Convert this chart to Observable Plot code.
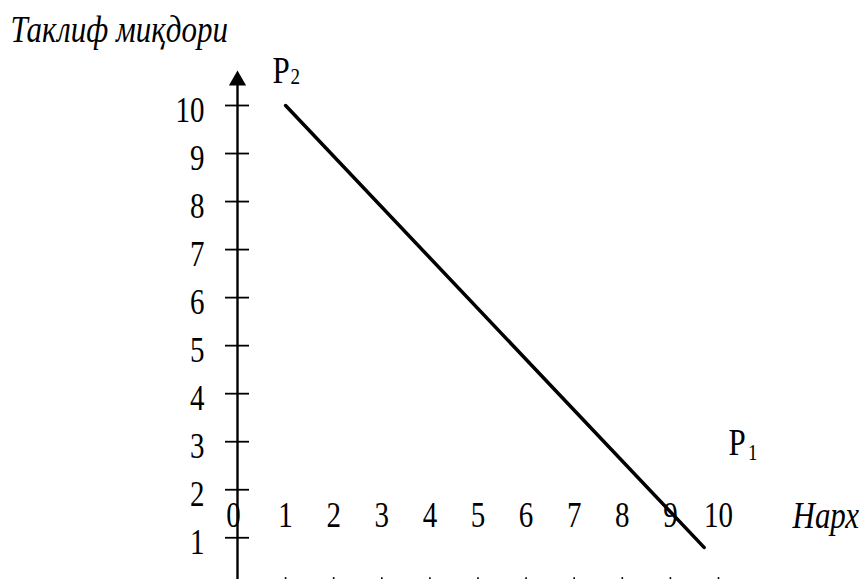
<!DOCTYPE html>
<html>
<head>
<meta charset="utf-8">
<script src="https://cdn.jsdelivr.net/npm/d3@7"></script>
<script src="https://cdn.jsdelivr.net/npm/@observablehq/plot@0.6"></script>
<style>
  body { margin: 0; background: #fff; }
  #chart { width: 865px; height: 579px; overflow: hidden; }
</style>
</head>
<body>
<div id="chart"></div>
<script>
// Tick values along both axes
const yTicks = [1, 2, 3, 4, 5, 6, 7, 8, 9, 10];
const xTicks = [1, 2, 3, 4, 5, 6, 7, 8, 9, 10];
const xLabels = [1, 2, 3, 4, 5, 6, 7, 8, 9, 10];
const originLabel = [0];

// Supply quantity line: from P2 down to P1
const pointNames = ["P", "P"];
const pointSubs = ["2", "1"];
const priceValues = [1, 9.7];
const quantityValues = [10, 0.8];

const yTitle = "Таклиф миқдори";
const xTitle = "Нарх";

const supply = pointNames.map((name, i) => ({name, sub: pointSubs[i], x: priceValues[i], y: quantityValues[i]}));

const serif = "'Liberation Serif', 'Times New Roman', serif";
const fs = 29;
const subFs = 19;

const chart = Plot.plot({
  width: 865,
  height: 579,
  margin: 0,
  x: {domain: [0, 10], range: [237, 718], axis: null},
  y: {domain: [0, 10], range: [585.3, 105], axis: null},
  style: {fontFamily: serif, background: "white", color: "black", overflow: "hidden"},
  marks: [
    // vertical axis with arrowhead
    Plot.ruleX([0], {x: d => d, y1: -1, y2: 10.45, stroke: "black", strokeWidth: 2.4}),
    Plot.dot([0], {x: d => d, y: 10.52, symbol: "triangle", r: 6.4, fill: "black", stroke: null}),
    Plot.ruleY(yTicks, {y: d => d, x1: -0.25, x2: 0.25, stroke: "black", strokeWidth: 1.8}),
    // horizontal axis with arrowhead
    Plot.ruleY([0], {y: d => d, x1: -0.1, x2: 12.4, stroke: "black", strokeWidth: 2}),
    Plot.arrow([0], {x1: 12, y1: 0, x2: 12.42, y2: 0, headLength: 18, stroke: "black", strokeWidth: 1.6}),
    Plot.ruleX(xTicks, {x: d => d, y1: -0.17, y2: 0.17, stroke: "black", strokeWidth: 1.6}),
    // supply line
    Plot.line(supply, {x: "x", y: "y", stroke: "black", strokeWidth: 3.5}),
    // tick labels
    Plot.text(yTicks, {x: 0, y: d => d, text: d => String(d), textAnchor: "end", dx: -33, dy: 5, fontSize: fs, fill: "black"}),
    Plot.text(xLabels, {x: d => d, y: 0, text: d => String(d), dy: -70, fontSize: fs, fill: "black"}),
    Plot.text(originLabel, {x: d => d, y: 0, text: d => String(d), dx: -4, dy: -70, fontSize: fs, fill: "black"}),
    // point labels with subscripts
    Plot.text([supply[0]], {x: "x", y: "y", text: "name", textAnchor: "start", dx: -13, dy: -35, fontSize: 31, fill: "black"}),
    Plot.text([supply[0]], {x: "x", y: "y", text: "sub", textAnchor: "start", dx: 5, dy: -29, fontSize: subFs, fill: "black"}),
    Plot.text([supply[1]], {x: "x", y: "y", text: "name", textAnchor: "start", dx: 24.5, dy: -104.5, fontSize: 31, fill: "black"}),
    Plot.text([supply[1]], {x: "x", y: "y", text: "sub", textAnchor: "start", dx: 44, dy: -95, fontSize: subFs, fill: "black"}),
    // axis titles
    Plot.text([yTitle], {frameAnchor: "top-left", text: d => d, textAnchor: "start", lineAnchor: "middle", dx: 10, dy: 29, fontSize: 31, fontStyle: "italic", fill: "black"}),
    Plot.text([xTitle], {x: 10, y: 0, text: d => d, textAnchor: "start", dx: 74, dy: -70, fontSize: 31, fontStyle: "italic", fill: "black"})
  ]
});

// Typeset glyphs a little taller than wide, as in the source drawing
chart.querySelectorAll("text").forEach(t => {
  t.setAttribute("transform", (t.getAttribute("transform") || "") + " scale(1,1.22)");
});

document.getElementById("chart").appendChild(chart);
</script>
</body>
</html>
